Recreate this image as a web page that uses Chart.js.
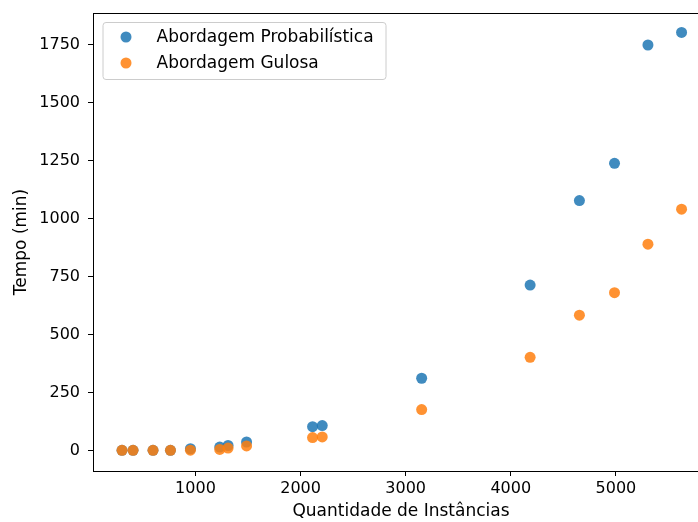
<!DOCTYPE html>
<html><head><meta charset="utf-8">
<script src="https://cdn.jsdelivr.net/npm/chart.js@4"></script>
<style>html,body{margin:0;padding:0;overflow:hidden;background:#fff;width:698px;height:522px}
#wrap{position:absolute;left:0;top:0;width:720px;height:522px}</style></head>
<body><div id="wrap"><canvas id="c" width="720" height="522"></canvas></div>
<script>
const instances = [301,406,596,762,952,1231,1310,1486,2114,2206,3152,4184,4653,4987,5305,5625];
const probTimes = [0,0,0,0,7,14,21,36,102,107,311,713,1077,1238,1748,1802];
const greedyTimes = [0,0,0,0,1,4,10,19,55,58,176,401,583,680,889,1040];
const seriesLabels = ['Abordagem Probabilística','Abordagem Gulosa'];
const seriesColors = ['rgba(31,119,180,0.85)','rgba(255,127,14,0.85)'];
const xTicks = [1000,2000,3000,4000,5000];
const yTicks = [0,250,500,750,1000,1250,1500,1750];
const xTitle = 'Quantidade de Instâncias';
const yTitle = 'Tempo (min)';

const FONT = 'DejaVu Sans';
Chart.defaults.font.family = FONT;
Chart.defaults.color = '#000';

const pts = (ys) => instances.map((x,i)=>({x:x,y:ys[i]}));

const frame = {
  id:'frame',
  afterDatasetsDraw(chart){
    const {ctx, chartArea:a} = chart;
    ctx.save();
    ctx.strokeStyle='#000'; ctx.lineWidth=1;
    ctx.strokeRect(Math.round(a.left)+0.5, Math.round(a.top)+0.5, Math.round(a.right-a.left), Math.round(a.bottom-a.top));
    ctx.restore();
  }
};
const legendBox = {
  id:'legendBox',
  afterDraw(chart){
    const {ctx, chartArea:a} = chart;
    const x0=a.left+9.5, y0=a.top+9, w=283, h=57;
    ctx.save();
    ctx.beginPath();
    ctx.roundRect(x0+0.5,y0+0.5,w,h,3);
    ctx.fillStyle='rgba(255,255,255,0.8)'; ctx.fill();
    ctx.strokeStyle='#cccccc'; ctx.lineWidth=1; ctx.stroke();
    chart.data.datasets.forEach((ds,i)=>{
      const cy=y0+15+i*26;
      ctx.beginPath(); ctx.arc(x0+23.5,cy,5.5,0,Math.PI*2);
      ctx.fillStyle=ds.backgroundColor; ctx.fill();
      ctx.fillStyle='#000'; ctx.font='17px "'+FONT+'"';
      ctx.textBaseline='middle'; ctx.textAlign='left';
      ctx.fillText(ds.label, x0+54, cy+1);
    });
    ctx.restore();
  }
};

new Chart(document.getElementById('c'), {
  type:'scatter',
  data:{datasets:[
    {label:seriesLabels[0], data:pts(probTimes), backgroundColor:seriesColors[0], borderWidth:0, pointRadius:5.5, pointHoverRadius:5.5, order:2},
    {label:seriesLabels[1], data:pts(greedyTimes), backgroundColor:seriesColors[1], borderWidth:0, pointRadius:5.5, pointHoverRadius:5.5, order:1}
  ]},
  options:{
    responsive:false, animation:false, devicePixelRatio:1,
    layout:{padding:{left:11,top:13,right:11,bottom:0}},
    plugins:{legend:{display:false}, tooltip:{enabled:false}},
    scales:{
      x:{type:'linear', min:25, max:5886,
        afterBuildTicks:(s)=>{s.ticks=xTicks.map(v=>({value:v}));},
        afterFit:(s)=>{s.height=51; s.paddingLeft=0; s.paddingRight=0;},
        grid:{display:true, drawOnChartArea:false, tickLength:5, tickColor:'#000'},
        border:{display:true,color:'#000'},
        ticks:{font:{size:16}, padding:3, maxRotation:0, callback:(v)=>String(v)},
        title:{display:true,text:xTitle,font:{size:17},padding:{top:0,bottom:0}}
      },
      y:{type:'linear', min:-89, max:1886,
        afterBuildTicks:(s)=>{s.ticks=yTicks.map(v=>({value:v}));},
        afterFit:(s)=>{s.width=82; s.paddingTop=0; s.paddingBottom=0;},
        grid:{display:true, drawOnChartArea:false, tickLength:5, tickColor:'#000'},
        border:{display:true,color:'#000'},
        ticks:{font:{size:16}, padding:8, callback:(v)=>String(v)},
        title:{display:true,text:yTitle,font:{size:17},padding:{top:0,bottom:4}}
      }
    }
  },
  plugins:[frame, legendBox]
});
</script></body></html>
